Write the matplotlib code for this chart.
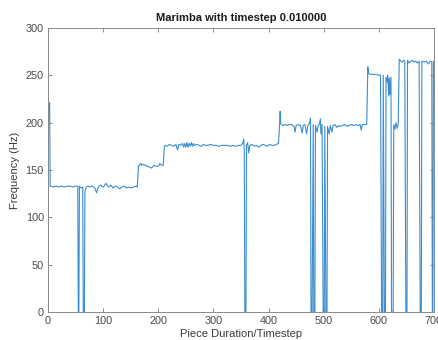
import numpy as np
from matplotlib import pyplot as plt

plt.rcParams['font.family'] = ['Liberation Sans', 'DejaVu Sans']

# vertices of the pitch track
piece_x = [0, 1, 3, 4, 10, 15, 20, 25, 30, 35, 40, 45, 50, 54,
           55, 56, 57, 58, 60, 63, 64, 66, 67, 68, 70, 72, 75, 80, 85, 88,
           90, 93, 96, 99, 102, 105, 108, 110, 114, 118, 122, 126, 130, 134,
           138, 142, 146, 150, 155, 160, 162,
           164, 166, 168, 170, 173, 176, 180, 184, 188, 192, 196, 200, 203,
           206, 209,
           211, 213, 216, 220, 224, 228, 232, 235, 237, 240, 244, 246, 248,
           250, 252, 254, 256, 258, 260, 262, 264, 266, 270, 274, 278, 282,
           286, 290, 295, 300, 305, 310, 315, 320, 325, 330, 335, 340, 345,
           350, 353, 355, 356, 357, 359, 360, 362, 364, 366, 370, 374, 378,
           382, 386, 390, 394, 398, 402, 406, 410, 414, 418,
           420, 421, 422, 426, 430, 434, 438, 442, 446, 448, 450, 454, 458,
           461, 463, 466, 469, 471, 474, 476, 477, 479, 481, 482, 484, 485,
           488, 490, 492, 494, 495, 497, 499, 501, 502, 504, 506, 507, 510,
           512, 515, 517, 520, 524, 527, 530, 534, 538, 542, 546, 550, 554,
           558, 562, 566, 568, 570, 574, 578,
           580, 581, 584, 590, 595, 600, 603, 605, 607, 608, 610, 612, 613,
           615, 616, 618, 619, 620, 622, 623, 626, 627, 629, 631, 633, 635,
           637, 640, 643, 645, 647, 649, 651, 652, 655, 658, 661, 664, 667,
           670, 673, 675, 677, 678, 682, 686, 690, 693, 696, 697, 698, 699,
           700]
freq_hz = [0, 221, 221, 133, 132, 133, 132, 133, 132, 133, 133, 132, 133, 133,
           0, 0, 133, 132, 131, 132, 0, 0, 126, 130, 132, 133, 132, 133, 131, 126,
           130, 133, 134, 132, 133, 136, 133, 132, 134, 131, 133, 132, 130, 132,
           133, 131, 132, 131, 132, 133, 132,
           154, 155, 157, 155, 156, 155, 154, 153, 152, 155, 154, 154, 157,
           155, 155,
           175, 176, 175, 177, 176, 175, 177, 171, 177, 176, 178, 174, 178,
           174, 179, 174, 178, 175, 179, 175, 178, 176, 177, 176, 175, 177,
           176, 176, 177, 176, 176, 175, 176, 176, 176, 175, 176, 175, 176,
           176, 178, 183, 170, 0, 0, 176, 179, 168, 176, 177, 175, 176,
           174, 176, 177, 176, 175, 177, 176, 176, 177, 178,
           198, 212, 199, 197, 198, 197, 198, 198, 196, 190, 197, 198, 197,
           189, 197, 198, 188, 197, 199, 205, 0, 0, 198, 0, 0, 197,
           190, 197, 198, 204, 188, 198, 0, 0, 196, 0, 0, 196, 188,
           197, 190, 197, 198, 195, 197, 196, 197, 198, 196, 197, 198, 197,
           198, 197, 198, 192, 198, 198, 198,
           259, 252, 251, 251, 251, 250, 250, 0, 0, 250, 0, 0, 248,
           243, 250, 228, 247, 230, 248, 0, 0, 198, 193, 200, 194, 198,
           267, 265, 264, 266, 265, 0, 0, 266, 263, 265, 266, 264, 265,
           263, 265, 0, 0, 265, 264, 265, 262, 265, 264, 0, 0, 265,
           265]

x_ticks = [0, 100, 200, 300, 400, 500, 600, 700]
y_ticks = [0, 50, 100, 150, 200, 250, 300]

fig = plt.figure(figsize=(4.39, 3.40), dpi=100)
ax = fig.add_axes([0.1093, 0.0824, 0.8793, 0.8353])
ax.plot(piece_x, freq_hz, color='#3a8dd0', linewidth=0.8)

ax.set_xlim(0, 700)
ax.set_ylim(0, 300)
ax.set_xticks(x_ticks)
ax.set_yticks(y_ticks)
ax.tick_params(direction='in', length=3, width=0.6, colors='#7a7a7a',
               labelcolor='#4a4a4a', labelsize=7.8, top=True, right=True, pad=3)
for s in ax.spines.values():
    s.set_color('#8a8a8a')
    s.set_linewidth(0.7)

ax.set_title('Marimba with timestep 0.010000', fontsize=8, fontweight='bold',
             color='#1a1a1a', pad=5)
ax.set_xlabel('Piece Duration/Timestep', fontsize=8, color='#3a3a3a', labelpad=2)
ax.set_ylabel('Frequency (Hz)', fontsize=8, color='#3a3a3a', labelpad=4)

fig.savefig('out.png', dpi=100)
